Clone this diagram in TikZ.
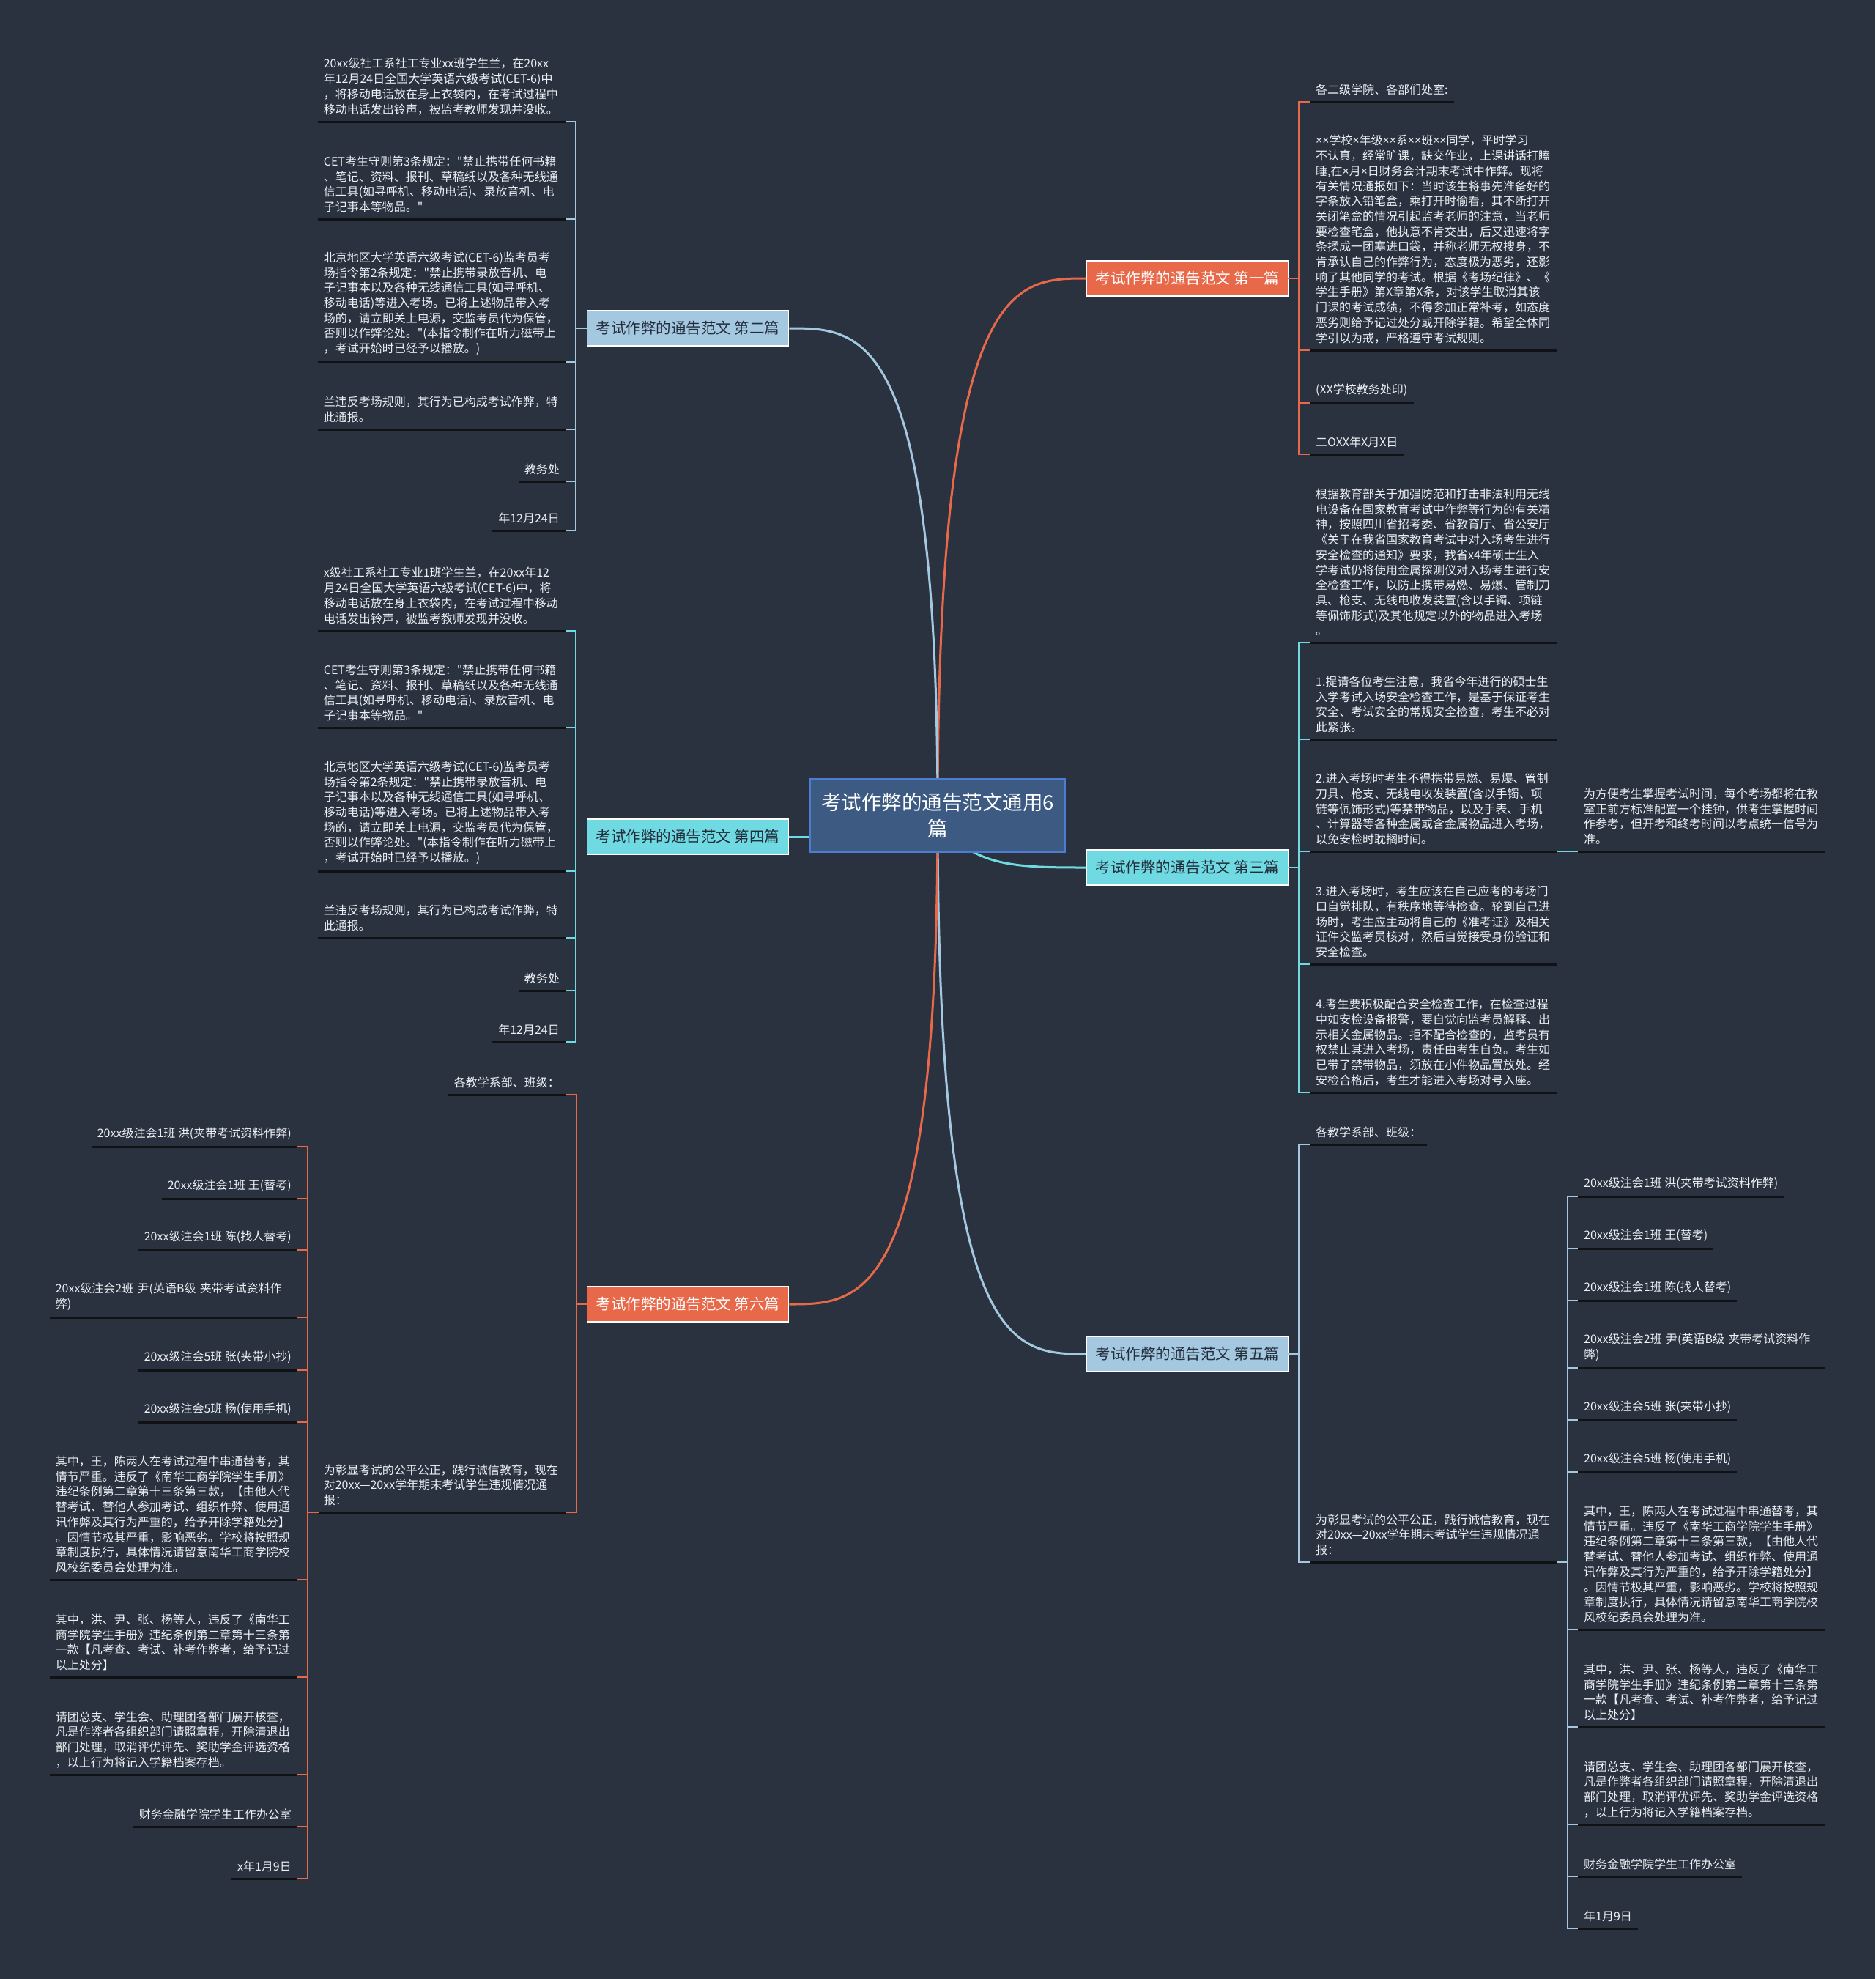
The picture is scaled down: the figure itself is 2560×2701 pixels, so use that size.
\documentclass[tikz,border=0pt]{standalone}
\usepackage{fontspec}
\newfontfamily\cjk{Noto Sans CJK SC}
\newfontfamily\latf{Noto Sans}
\newcommand\mytimes{{\latf ×}}
\usetikzlibrary{backgrounds,calc}
\definecolor{bg}{RGB}{42,50,64}
\definecolor{orng}{RGB}{232,104,74}
\definecolor{lblue}{RGB}{165,200,225}
\definecolor{cyanc}{RGB}{112,218,226}
\definecolor{ctrfill}{RGB}{60,90,130}
\definecolor{ctrdraw}{RGB}{75,125,210}
\definecolor{txt}{RGB}{236,239,243}
\definecolor{dtxt}{RGB}{35,45,60}
\definecolor{ulc}{RGB}{16,18,22}
\tikzset{
  leaf/.style={font=\cjk\fontsize{16pt}{20.7pt}\selectfont, text=txt, align=left, inner xsep=8pt, inner ysep=9pt},
  leafL/.style={leaf, anchor=south east},
  leafR/.style={leaf, anchor=south west},
  wide/.style={text width=322pt},
  uln/.style={draw=ulc, line width=3pt},
  brk/.style={draw=#1, line width=2.5pt, line cap=rect},
  conn/.style={draw=#1, line width=3pt},
  branch/.style={font=\cjk\fontsize{20.5pt}{24pt}\selectfont, minimum width=275pt, minimum height=48pt, draw=white, line width=1.5pt, inner sep=0pt},
  ctrbox/.style={font=\cjk\fontsize{27.5pt}{36pt}\selectfont, minimum width=348pt, minimum height=100pt, fill=ctrfill, draw=ctrdraw, line width=1.5pt, text=white, align=center}
}
\begin{document}
\begin{tikzpicture}[x=1pt,y=-1pt]
\begin{scope}[on background layer]
\fill[bg] (0,0) rectangle (2560,2701);
\end{scope}
\useasboundingbox (0,0) rectangle (2560,2701);

% center and branches
\node[ctrbox] (ctr) at (1280,1113) {考试作弊的通告范文通用6\\篇};
\node[branch, fill=orng, text=white] (b1) at (1621,380) {考试作弊的通告范文 第一篇};
\node[branch, fill=lblue, text=dtxt] (b2) at (939,448) {考试作弊的通告范文 第二篇};
\node[branch, fill=cyanc, text=dtxt] (b3) at (1621,1184) {考试作弊的通告范文 第三篇};
\node[branch, fill=cyanc, text=dtxt] (b4) at (939,1142) {考试作弊的通告范文 第四篇};
\node[branch, fill=lblue, text=dtxt] (b5) at (1621,1848) {考试作弊的通告范文 第五篇};
\node[branch, fill=orng, text=white] (b6) at (939,1780) {考试作弊的通告范文 第六篇};

\begin{scope}[on background layer]
\draw[conn=orng] (ctr.center) .. controls (ctr.center |- b1.west) and ($(b1.west)+(-100,0)$) .. (b1.west);
\draw[conn=lblue] (ctr.center) .. controls (ctr.center |- b2.east) and ($(b2.east)+(100,0)$) .. (b2.east);
\draw[conn=cyanc] (ctr.center) .. controls ($(ctr.center)+(40,70)$) and ($(b3.west)+(-100,0)$) .. (b3.west);
\draw[conn=cyanc] (b4.east) -- (b4.east -| ctr.west);
\draw[conn=lblue] (ctr.center) .. controls (ctr.center |- b5.west) and ($(b5.west)+(-100,0)$) .. (b5.west);
\draw[conn=orng] (ctr.center) .. controls (ctr.center |- b6.east) and ($(b6.east)+(100,0)$) .. (b6.east);
\end{scope}

% bracket coordinates
\coordinate (B1) at (1773,380);
\coordinate (B2) at (786,448);
\coordinate (B3) at (1773,1184);
\coordinate (B4) at (786,1142);
\coordinate (B5) at (1773,1848);
\coordinate (B5b) at (2140,2132);
\coordinate (B6) at (787,1780);
\coordinate (B6b) at (420,2064);

% ---------- branch 2 ----------
\node[leafL,wide] (a1) at (772,166) {20xx级社工系社工专业xx班学生兰，在20xx\\年12月24日全国大学英语六级考试(CET-6)中\\，将移动电话放在身上衣袋内，在考试过程中\\移动电话发出铃声，被监考教师发现并没收。};
\node[leafL,wide] (a2) at (772,299) {CET考生守则第3条规定："禁止携带任何书籍\\、笔记、资料、报刊、草稿纸以及各种无线通\\信工具(如寻呼机、移动电话)、录放音机、电\\子记事本等物品。"};
\node[leafL,wide] (a3) at (772,494) {北京地区大学英语六级考试(CET-6)监考员考\\场指令第2条规定："禁止携带录放音机、电\\子记事本以及各种无线通信工具(如寻呼机、\\移动电话)等进入考场。已将上述物品带入考\\场的，请立即关上电源，交监考员代为保管，\\否则以作弊论处。"(本指令制作在听力磁带上\\，考试开始时已经予以播放。)};
\node[leafL,wide] (a4) at (772,586) {兰违反考场规则，其行为已构成考试作弊，特\\此通报。};
\node[leafL] (a5) at (772,657) {教务处};
\node[leafL] (a6) at (772,724) {年12月24日};
\foreach \n in {a1,a2,a3,a4,a5,a6} {
  \draw[brk=lblue] (\n.south east) -- (\n.south east -| B2);
  \draw[uln] (\n.south west) -- (\n.south east);
}
\draw[brk=lblue] (a1.south east -| B2) -- (a6.south east -| B2);
\draw[brk=lblue] (b2.west) -- (b2.west -| B2);

% ---------- branch 4 ----------
\node[leafL,wide] (c1) at (772,861) {x级社工系社工专业1班学生兰，在20xx年12\\月24日全国大学英语六级考试(CET-6)中，将\\移动电话放在身上衣袋内，在考试过程中移动\\电话发出铃声，被监考教师发现并没收。};
\node[leafL,wide] (c2) at (772,993) {CET考生守则第3条规定："禁止携带任何书籍\\、笔记、资料、报刊、草稿纸以及各种无线通\\信工具(如寻呼机、移动电话)、录放音机、电\\子记事本等物品。"};
\node[leafL,wide] (c3) at (772,1189) {北京地区大学英语六级考试(CET-6)监考员考\\场指令第2条规定："禁止携带录放音机、电\\子记事本以及各种无线通信工具(如寻呼机、\\移动电话)等进入考场。已将上述物品带入考\\场的，请立即关上电源，交监考员代为保管，\\否则以作弊论处。"(本指令制作在听力磁带上\\，考试开始时已经予以播放。)};
\node[leafL,wide] (c4) at (772,1280) {兰违反考场规则，其行为已构成考试作弊，特\\此通报。};
\node[leafL] (c5) at (772,1352) {教务处};
\node[leafL] (c6) at (772,1422) {年12月24日};
\foreach \n in {c1,c2,c3,c4,c5,c6} {
  \draw[brk=cyanc] (\n.south east) -- (\n.south east -| B4);
  \draw[uln] (\n.south west) -- (\n.south east);
}
\draw[brk=cyanc] (c1.south east -| B4) -- (c6.south east -| B4);

% ---------- branch 6 ----------
\node[leafL] (e1) at (772,1494) {各教学系部、班级：};
\node[leafL,wide] (e2) at (772,2064) {为彰显考试的公平公正，践行诚信教育，现在\\对20xx—20xx学年期末考试学生违规情况通\\报：};
\foreach \n in {e1,e2} {
  \draw[brk=orng] (\n.south east) -- (\n.south east -| B6);
  \draw[uln] (\n.south west) -- (\n.south east);
}
\draw[brk=orng] (e1.south east -| B6) -- (e2.south east -| B6);
\draw[brk=orng] (b6.west) -- (b6.west -| B6);

\node[leafL] (f1) at (406,1565) {20xx级注会1班 洪(夹带考试资料作弊)};
\node[leafL] (f2) at (406,1636) {20xx级注会1班 王(替考)};
\node[leafL] (f3) at (406,1706) {20xx级注会1班 陈(找人替考)};
\node[leafL,wide] (f4) at (406,1798) {20xx级注会2班 尹(英语B级 夹带考试资料作\\弊)};
\node[leafL] (f5) at (406,1870) {20xx级注会5班 张(夹带小抄)};
\node[leafL] (f6) at (406,1941) {20xx级注会5班 杨(使用手机)};
\node[leafL,wide] (f7) at (406,2156) {其中，王，陈两人在考试过程中串通替考，其\\情节严重。违反了《南华工商学院学生手册》\\违纪条例第二章第十三条第三款，【由他人代\\替考试、替他人参加考试、组织作弊、使用通\\讯作弊及其行为严重的，给予开除学籍处分】\\。因情节极其严重，影响恶劣。学校将按照规\\章制度执行，具体情况请留意南华工商学院校\\风校纪委员会处理为准。};
\node[leafL,wide] (f8) at (406,2289) {其中，洪、尹、张、杨等人，违反了《南华工\\商学院学生手册》违纪条例第二章第十三条第\\一款【凡考查、考试、补考作弊者，给予记过\\以上处分】};
\node[leafL,wide] (f9) at (406,2422) {请团总支、学生会、助理团各部门展开核查，\\凡是作弊者各组织部门请照章程，开除清退出\\部门处理，取消评优评先、奖助学金评选资格\\，以上行为将记入学籍档案存档。};
\node[leafL] (f10) at (406,2493) {财务金融学院学生工作办公室};
\node[leafL] (f11) at (406,2564) {x年1月9日};
\foreach \n in {f1,f2,f3,f4,f5,f6,f7,f8,f9,f10,f11} {
  \draw[brk=orng] (\n.south east) -- (\n.south east -| B6b);
  \draw[uln] (\n.south west) -- (\n.south east);
}
\draw[brk=orng] (f1.south east -| B6b) -- (f11.south east -| B6b);
\draw[brk=orng] (e2.south west) -- (e2.south west -| B6b);

% ---------- branch 1 ----------
\node[leafR] (g1) at (1788,139) {各二级学院、各部们处室:};
\node[leafR,wide] (g2) at (1788,478) {\mytimes\mytimes 学校\mytimes 年级\mytimes\mytimes 系\mytimes\mytimes 班\mytimes\mytimes 同学，平时学习\\不认真，经常旷课，缺交作业，上课讲话打瞌\\睡,在\mytimes 月\mytimes 日财务会计期末考试中作弊。现将\\有关情况通报如下：当时该生将事先准备好的\\字条放入铅笔盒，乘打开时偷看，其不断打开\\关闭笔盒的情况引起监考老师的注意，当老师\\要检查笔盒，他执意不肯交出，后又迅速将字\\条揉成一团塞进口袋，并称老师无权搜身，不\\肯承认自己的作弊行为，态度极为恶劣，还影\\响了其他同学的考试。根据《考场纪律》、《\\学生手册》第X章第X条，对该学生取消其该\\门课的考试成绩，不得参加正常补考，如态度\\恶劣则给予记过处分或开除学籍。希望全体同\\学引以为戒，严格遵守考试规则。};
\node[leafR] (g3) at (1788,550) {(XX学校教务处印)};
\node[leafR] (g4) at (1788,620) {二OXX年X月X日};
\foreach \n in {g1,g2,g3,g4} {
  \draw[brk=orng] (\n.south west -| B1) -- (\n.south west);
  \draw[uln] (\n.south west) -- (\n.south east);
}
\draw[brk=orng] (g1.south west -| B1) -- (g4.south west -| B1);
\draw[brk=orng] (b1.east) -- (b1.east -| B1);

% ---------- branch 3 ----------
\node[leafR,wide] (h1) at (1788,877) {根据教育部关于加强防范和打击非法利用无线\\电设备在国家教育考试中作弊等行为的有关精\\神，按照四川省招考委、省教育厅、省公安厅\\《关于在我省国家教育考试中对入场考生进行\\安全检查的通知》要求，我省x4年硕士生入\\学考试仍将使用金属探测仪对入场考生进行安\\全检查工作，以防止携带易燃、易爆、管制刀\\具、枪支、无线电收发装置(含以手镯、项链\\等佩饰形式)及其他规定以外的物品进入考场\\。};
\node[leafR,wide] (h2) at (1788,1009) {1.提请各位考生注意，我省今年进行的硕士生\\入学考试入场安全检查工作，是基于保证考生\\安全、考试安全的常规安全检查，考生不必对\\此紧张。};
\node[leafR,wide] (h3) at (1788,1162) {2.进入考场时考生不得携带易燃、易爆、管制\\刀具、枪支、无线电收发装置(含以手镯、项\\链等佩饰形式)等禁带物品，以及手表、手机\\、计算器等各种金属或含金属物品进入考场，\\以免安检时耽搁时间。};
\node[leafR,wide] (h4) at (1788,1316) {3.进入考场时，考生应该在自己应考的考场门\\口自觉排队，有秩序地等待检查。轮到自己进\\场时，考生应主动将自己的《准考证》及相关\\证件交监考员核对，然后自觉接受身份验证和\\安全检查。};
\node[leafR,wide] (h5) at (1788,1491) {4.考生要积极配合安全检查工作，在检查过程\\中如安检设备报警，要自觉向监考员解释、出\\示相关金属物品。拒不配合检查的，监考员有\\权禁止其进入考场，责任由考生自负。考生如\\已带了禁带物品，须放在小件物品置放处。经\\安检合格后，考生才能进入考场对号入座。};
\foreach \n in {h1,h2,h3,h4,h5} {
  \draw[brk=cyanc] (\n.south west -| B3) -- (\n.south west);
  \draw[uln] (\n.south west) -- (\n.south east);
}
\draw[brk=cyanc] (h1.south west -| B3) -- (h5.south west -| B3);
\draw[brk=cyanc] (b3.east) -- (b3.east -| B3);
\node[leafR,wide] (hx) at (2154,1162) {为方便考生掌握考试时间，每个考场都将在教\\室正前方标准配置一个挂钟，供考生掌握时间\\作参考，但开考和终考时间以考点统一信号为\\准。};
\draw[brk=cyanc] (h3.south east) -- (hx.south west);
\draw[uln] (hx.south west) -- (hx.south east);

% ---------- branch 5 ----------
\node[leafR] (k1) at (1788,1562) {各教学系部、班级：};
\node[leafR,wide] (k2) at (1788,2132) {为彰显考试的公平公正，践行诚信教育，现在\\对20xx—20xx学年期末考试学生违规情况通\\报：};
\foreach \n in {k1,k2} {
  \draw[brk=lblue] (\n.south west -| B5) -- (\n.south west);
  \draw[uln] (\n.south west) -- (\n.south east);
}
\draw[brk=lblue] (k1.south west -| B5) -- (k2.south west -| B5);
\draw[brk=lblue] (b5.east) -- (b5.east -| B5);

\node[leafR] (m1) at (2154,1633) {20xx级注会1班 洪(夹带考试资料作弊)};
\node[leafR] (m2) at (2154,1704) {20xx级注会1班 王(替考)};
\node[leafR] (m3) at (2154,1775) {20xx级注会1班 陈(找人替考)};
\node[leafR,wide] (m4) at (2154,1867) {20xx级注会2班 尹(英语B级 夹带考试资料作\\弊)};
\node[leafR] (m5) at (2154,1938) {20xx级注会5班 张(夹带小抄)};
\node[leafR] (m6) at (2154,2009) {20xx级注会5班 杨(使用手机)};
\node[leafR,wide] (m7) at (2154,2224) {其中，王，陈两人在考试过程中串通替考，其\\情节严重。违反了《南华工商学院学生手册》\\违纪条例第二章第十三条第三款，【由他人代\\替考试、替他人参加考试、组织作弊、使用通\\讯作弊及其行为严重的，给予开除学籍处分】\\。因情节极其严重，影响恶劣。学校将按照规\\章制度执行，具体情况请留意南华工商学院校\\风校纪委员会处理为准。};
\node[leafR,wide] (m8) at (2154,2357) {其中，洪、尹、张、杨等人，违反了《南华工\\商学院学生手册》违纪条例第二章第十三条第\\一款【凡考查、考试、补考作弊者，给予记过\\以上处分】};
\node[leafR,wide] (m9) at (2154,2490) {请团总支、学生会、助理团各部门展开核查，\\凡是作弊者各组织部门请照章程，开除清退出\\部门处理，取消评优评先、奖助学金评选资格\\，以上行为将记入学籍档案存档。};
\node[leafR] (m10) at (2154,2561) {财务金融学院学生工作办公室};
\node[leafR] (m11) at (2154,2632) {年1月9日};
\foreach \n in {m1,m2,m3,m4,m5,m6,m7,m8,m9,m10,m11} {
  \draw[brk=lblue] (\n.south west -| B5b) -- (\n.south west);
  \draw[uln] (\n.south west) -- (\n.south east);
}
\draw[brk=lblue] (m1.south west -| B5b) -- (m11.south west -| B5b);
\draw[brk=lblue] (k2.south east) -- (k2.south east -| B5b);
\end{tikzpicture}
\end{document}
